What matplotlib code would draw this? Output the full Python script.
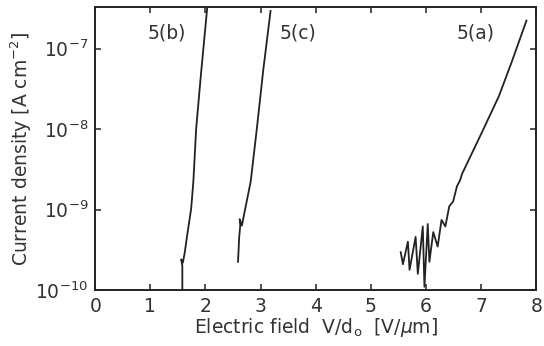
import matplotlib
matplotlib.use("Agg")
import matplotlib.pyplot as plt
import numpy as np

plt.rcParams['font.family'] = ['DejaVu Sans']
plt.rcParams['mathtext.fontset'] = 'dejavusans'

# curve 5(a): field [V/um], log10 of current density
field_a = [5.54, 5.58, 5.67, 5.70, 5.81, 5.85, 5.94, 5.97, 6.03, 6.06, 6.13,
           6.21, 6.28, 6.35, 6.42, 6.49, 6.56, 6.62, 6.65, 7.04, 7.32, 7.55, 7.82]
logj_a = [-9.53, -9.68, -9.40, -9.75, -9.34, -9.80, -9.21, -9.96, -9.18, -9.65, -9.28,
          -9.46, -9.13, -9.21, -8.96, -8.90, -8.71, -8.63, -8.56, -8.00, -7.59, -7.17, -6.65]

# curve 5(b)
field_b = [1.58, 1.58, 1.56, 1.59, 1.62, 1.67, 1.74, 1.78, 1.83, 1.92, 2.03]
logj_b = [-10.0, -9.70, -9.62, -9.66, -9.55, -9.31, -8.99, -8.65, -8.00, -7.30, -6.50]

# curve 5(c)
field_c = [2.59, 2.61, 2.63, 2.62, 2.66, 2.70, 2.82, 2.93, 3.05, 3.18]
logj_c = [-9.65, -9.35, -9.20, -9.12, -9.20, -9.06, -8.65, -8.00, -7.25, -6.53]

labels = ["5(a)", "5(b)", "5(c)"]

fig = plt.figure(figsize=(5.44, 3.46), dpi=100)
ax = fig.add_axes([0.175, 0.162, 0.811, 0.818])

for f, lj in [(field_a, logj_a), (field_b, logj_b), (field_c, logj_c)]:
    ax.plot(f, 10 ** np.array(lj), color='#222222', lw=1.3)

ax.set_yscale('log')
ax.set_xlim(0, 8)
ax.set_ylim(1e-10, 10 ** -6.48)
ax.set_xticks(range(9))
ax.set_yticks([1e-10, 1e-9, 1e-8, 1e-7])
ax.set_yticklabels([r'10$^{-10}$', r'10$^{-9}$', r'10$^{-8}$', r'10$^{-7}$'])
ax.minorticks_off()
ax.tick_params(direction='in', length=4, width=1.2, top=True, right=True,
               labelsize=13.5, colors='#333333', pad=5)
for s in ax.spines.values():
    s.set_linewidth(1.4)
    s.set_color('#222222')

ax.set_xlabel(r'Electric field  V/d$_{\rm o}$  [V/$\mu$m]', fontsize=13.5, color='#333333', labelpad=0)
ax.set_ylabel(r'Current density [A cm$^{-2}$]', fontsize=13.5, color='#333333', labelpad=1)

ax.text(0.95, 10 ** -6.87, labels[1], fontsize=13.5, color='#333333')
ax.text(3.35, 10 ** -6.87, labels[2], fontsize=13.5, color='#333333')
ax.text(6.55, 10 ** -6.87, labels[0], fontsize=13.5, color='#333333')

fig.savefig('out.png', dpi=100)
